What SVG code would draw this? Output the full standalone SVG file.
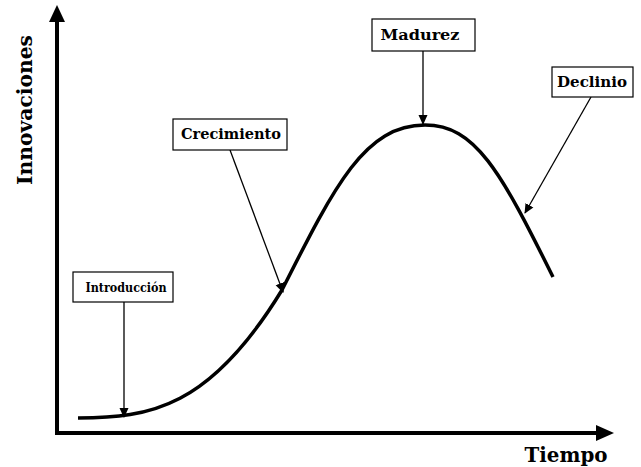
<svg xmlns="http://www.w3.org/2000/svg" width="641" height="467" viewBox="0 0 641 467">
<style>
.box{fill:#fff;stroke:#000;stroke-width:1.2}
.lbl{font-family:"DejaVu Serif","Liberation Serif",serif;font-weight:bold;font-size:14px;fill:#000;text-anchor:middle}
.ax{font-family:"DejaVu Serif","Liberation Serif",serif;font-weight:bold;font-size:20px;fill:#000}
.conn{stroke:#000;stroke-width:1.3;fill:none;marker-end:url(#ah)}
.axis{stroke:#000;stroke-width:4;fill:none}
</style>
<defs>
<marker id="ah" markerWidth="10" markerHeight="10" refX="9" refY="5" orient="auto" markerUnits="userSpaceOnUse">
<path d="M0,0.5 L10,5 L0,9.5 Z" fill="#000"/>
</marker>
</defs>
<g id="axes">
<line class="axis" x1="57" y1="433" x2="57" y2="20"/>
<path d="M49,22 L57,5 L65,22 Z" fill="#000"/>
<line class="axis" x1="55" y1="433" x2="598" y2="433"/>
<path d="M596,425 L614,433 L596,441 Z" fill="#000"/>
<text class="ax" transform="translate(32,110) rotate(-90)" text-anchor="middle" textLength="150" lengthAdjust="spacingAndGlyphs">Innovaciones</text>
<text class="ax" x="566" y="462" text-anchor="middle" textLength="83" lengthAdjust="spacingAndGlyphs">Tiempo</text>
</g>
<g id="curve">
<path d="M78,418 C150,418 210,408 282,290 C335,185 365,125 425,125 C475,125 500,170 553,277" stroke="#000" stroke-width="3.5" fill="none"/>
</g>
<g id="connectors">
<line class="conn" x1="124" y1="302" x2="124" y2="417"/>
<line class="conn" x1="230" y1="150" x2="283" y2="292"/>
<line class="conn" x1="423" y1="51" x2="423" y2="124"/>
<line class="conn" x1="591" y1="97" x2="525" y2="213"/>
</g>
<g id="introduccion">
<rect class="box" x="73" y="272" width="100" height="30"/>
<text class="lbl" x="126" y="292" style="font-size:12px" textLength="81" lengthAdjust="spacingAndGlyphs">Introducción</text>
</g>
<g id="crecimiento">
<rect class="box" x="173" y="119" width="114" height="31"/>
<text class="lbl" x="231" y="139" textLength="100" lengthAdjust="spacingAndGlyphs">Crecimiento</text>
</g>
<g id="madurez">
<rect class="box" x="372" y="19" width="103" height="32"/>
<text class="lbl" x="420" y="40" textLength="79" lengthAdjust="spacingAndGlyphs">Madurez</text>
</g>
<g id="declinio">
<rect class="box" x="552" y="67" width="81" height="30"/>
<text class="lbl" x="592" y="87" textLength="70" lengthAdjust="spacingAndGlyphs">Declinio</text>
</g>
</svg>
